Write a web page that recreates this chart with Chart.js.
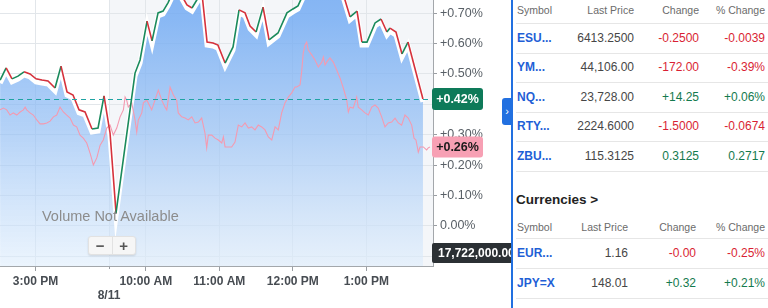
<!DOCTYPE html>
<html>
<head>
<meta charset="utf-8">
<script src="https://cdn.jsdelivr.net/npm/chart.js@4.4.1/dist/chart.umd.min.js"></script>
<style>
    html, body { margin: 0; padding: 0; }
    body {
        width: 768px; height: 308px; overflow: hidden; position: relative;
        background: #fff; font-family: "Liberation Sans", Arial, sans-serif;
    }
    #chartBox { position: absolute; left: 0; top: 0; width: 511px; height: 308px; overflow: hidden; }
    #priceChart { position: absolute; left: 0; top: -40px; }
    .no-volume { position: absolute; left: 42px; top: 208px; font-size: 14.5px; color: #8c8c8c; z-index: 2; }
    .zoom-btns {
        position: absolute; left: 88px; top: 236px; width: 46px; height: 17px; z-index: 2;
        background: #f6f6f6; border: 1px solid #e2e2e2; border-radius: 3px;
        box-shadow: 0 1px 2px rgba(0,0,0,0.12); display: flex;
    }
    .zoom-btns span {
        flex: 1; text-align: center; font-size: 15px; line-height: 17px; font-weight: bold; color: #555;
    }
    .zoom-btns span:first-child { border-right: 1px solid #e2e2e2; }
    #panel { position: absolute; left: 511px; top: 0; width: 257px; height: 308px; background: #fff; border-left: 2px solid #2270e0; }
    .tab {
        position: absolute; left: 502px; top: 98px; width: 10px; height: 27px; background: #2270e0;
        border-radius: 3px 0 0 3px; color: #fff; font-size: 11px; line-height: 27px; text-align: center; z-index: 3;
    }
    .cell { position: absolute; line-height: 16px; white-space: nowrap; z-index: 3; }
    .hdr { font-size: 10.5px; color: #6b6b6b; }
    .sym { font-size: 12px; font-weight: bold; color: #1f5fd6; }
    .num { font-size: 12px; color: #464646; text-align: right; }
    .up { color: #147a4e; }
    .down { color: #d91f34; }
    .sep { position: absolute; left: 516px; width: 252px; height: 1px; background: #e6e6e6; z-index: 3; }
    .title { font-size: 13.5px; font-weight: bold; color: #222; }
</style>
</head>
<body>
<div id="chartBox">
    <canvas id="priceChart" width="511" height="348"></canvas>
</div>
<div class="no-volume">Volume Not Available</div>
<div class="zoom-btns"><span>&minus;</span><span>+</span></div>
<div id="panel"></div>
<div class="tab">&rsaquo;</div>

<script>
// Main price line (minutes from the 9:30 open on 8/11, % change)
const mainTimes = [-88.9, -84.0, -79.2, -74.3, -69.4, -64.5, -59.6, -54.7, -49.8, -44.1,
    -39.2, -34.3, -29.4, -24.5, -19.6, -13.9, -9.0, -4.1, 0.8, 5.7,
    21.2, 25.3, 31.0, 35.1, 40.0, 44.1, 48.1, 53.0, 57.9, 63.6,
    67.7, 72.6, 75.9, 80.0, 84.9, 88.9, 94.7, 101.2, 106.1, 111.0,
    115.1, 120.0, 125.7, 130.6, 137.9, 145.2, 150.1, 154.2, 158.3, 164.0,
    169.7, 175.4, 181.2, 186.9, 191.8, 196.7, 202.4, 206.4, 210.5, 217.1,
    222.0, 226.8, 229.3, 234.2, 239.1, 244.0, 256.2];
const mainValues = [0.480, 0.520, 0.484, 0.493, 0.507, 0.500, 0.484, 0.480, 0.477, 0.454,
    0.526, 0.441, 0.431, 0.382, 0.375, 0.319, 0.322, 0.428, 0.306, 0.043,
    0.503, 0.546, 0.674, 0.609, 0.701, 0.707, 0.734, 0.776, 0.768, 0.727,
    0.717, 0.750, 0.763, 0.605, 0.602, 0.595, 0.536, 0.589, 0.711, 0.701,
    0.658, 0.638, 0.720, 0.612, 0.635, 0.701, 0.714, 0.724, 0.760, 0.790,
    0.830, 0.810, 0.840, 0.800, 0.753, 0.688, 0.707, 0.605, 0.605, 0.668,
    0.681, 0.638, 0.651, 0.638, 0.566, 0.605, 0.418];

// Comparison line (pink)
const compTimes = [-88.9, -86.2, -83.5, -80.8, -78.1, -75.3, -72.6, -69.9, -68.5, -67.2,
    -64.5, -61.8, -59.0, -56.3, -53.6, -50.8, -48.1, -45.4, -42.7, -40.0,
    -37.3, -34.5, -31.8, -29.1, -26.4, -23.7, -21.0, -18.2, -15.5, -12.8,
    -10.0, -7.3, -4.7, -1.9, 0.8, 3.5, 6.3, 9.0, 11.7, 13.1,
    14.4, 15.7, 18.5, 21.2, 22.6, 23.9, 26.7, 28.0, 30.8,
    34.8, 37.5, 40.2, 43.0, 45.7, 47.1, 49.8, 52.5, 55.2, 56.5,
    59.3, 62.0, 64.7, 67.5, 70.2, 72.9, 75.6, 78.3, 79.7, 81.0,
    83.8, 86.5, 89.2, 92.0, 93.3, 94.7, 97.3, 100.1, 102.8, 105.5,
    108.3, 111.0, 113.7, 116.4, 119.1, 121.8, 124.6, 127.3, 130.0, 132.8,
    135.5, 138.1, 140.9, 143.6, 146.3, 149.1, 151.8,
    153.2, 155.9, 157.2, 158.5, 159.9, 161.3, 162.6, 165.4, 168.1, 170.8,
    173.6, 174.9, 176.3, 177.6, 180.3, 183.0, 185.8, 188.5, 191.2, 194.0,
    195.3, 196.7, 199.3, 202.1, 203.4, 206.2, 208.9, 211.6, 214.4, 217.1,
    219.7, 222.5, 225.2, 227.9, 230.7, 233.4, 236.1, 238.8, 241.5, 244.2,
    247.0, 248.9, 250.5, 252.4, 253.8, 256.5, 259.2, 260.5, 261.9];
const compValues = [0.382, 0.388, 0.382, 0.365, 0.372, 0.365, 0.375, 0.382, 0.391, 0.382,
    0.372, 0.365, 0.349, 0.336, 0.336, 0.339, 0.345, 0.359, 0.365, 0.391,
    0.375, 0.365, 0.355, 0.332, 0.326, 0.299, 0.289, 0.273, 0.240, 0.201,
    0.224, 0.266, 0.283, 0.322, 0.332, 0.299, 0.322, 0.359, 0.382, 0.424,
    0.414, 0.391, 0.405, 0.349, 0.309, 0.349, 0.372, 0.405, 0.414,
    0.382, 0.414, 0.447, 0.414, 0.391, 0.382, 0.457, 0.431, 0.414, 0.372,
    0.359, 0.355, 0.349, 0.359, 0.339, 0.342, 0.355, 0.306, 0.257, 0.299,
    0.299, 0.289, 0.283, 0.273, 0.293, 0.260, 0.260, 0.260, 0.276, 0.332,
    0.326, 0.339, 0.322, 0.326, 0.316, 0.332, 0.326, 0.316, 0.293, 0.283,
    0.326, 0.316, 0.372, 0.405, 0.424, 0.438, 0.457,
    0.457, 0.464, 0.507, 0.569, 0.595, 0.605, 0.579, 0.563, 0.546, 0.523,
    0.539, 0.556, 0.530, 0.539, 0.553, 0.539, 0.513, 0.487, 0.454, 0.414,
    0.375, 0.391, 0.388, 0.424, 0.391, 0.382, 0.372, 0.365, 0.391, 0.398,
    0.388, 0.359, 0.326, 0.339, 0.342, 0.355, 0.339, 0.332, 0.365, 0.355,
    0.332, 0.289, 0.283, 0.243, 0.260, 0.260, 0.250, 0.257, 0.260];

// Axis ticks
const xTickValues = [-60, 0, 30, 90, 150, 210];
const xTickLabels = ['3:00 PM', ['', '8/11'], '10:00 AM', '11:00 AM', '12:00 PM', '1:00 PM'];
const yTickValues = [-0.1, 0, 0.1, 0.2, 0.3, 0.4, 0.5, 0.6, 0.7, 0.8];
const volumeLabel = '17,722,000.00';

// Side table
const tableHeaders = ['Symbol', 'Last Price', 'Change', '% Change'];
const futSymbols = ['ESU...', 'YM...', 'NQ...', 'RTY...', 'ZBU...'];
const futLast = ['6413.2500', '44,106.00', '23,728.00', '2224.6000', '115.3125'];
const futChange = ['-0.2500', '-172.00', '+14.25', '-1.5000', '0.3125'];
const futPct = ['-0.0039', '-0.39%', '+0.06%', '-0.0674', '0.2717'];
const curSymbols = ['EUR...', 'JPY=X'];
const curLast = ['1.16', '148.01'];
const curChange = ['-0.00', '+0.32'];
const curPct = ['-0.25%', '+0.21%'];

const GREEN = '#1a8a5c';
const RED = '#d6323c';

function fmtPct(v) {
    if (Math.abs(v) < 1e-9) return '0.00%';
    return (v > 0 ? '+' : '') + v.toFixed(2) + '%';
}

// Build the side panel
function addCell(text, cls, top, left, right) {
    const el = document.createElement('div');
    el.className = 'cell ' + cls;
    el.textContent = text;
    el.style.top = (top - 8) + 'px';
    if (left !== null) el.style.left = left + 'px';
    if (right !== null) el.style.right = right + 'px';
    document.body.appendChild(el);
}
function addSep(top) {
    const el = document.createElement('div');
    el.className = 'sep';
    el.style.top = top + 'px';
    document.body.appendChild(el);
}
function signClass(s) { return s.charAt(0) === '-' ? 'down' : 'up'; }

function buildTable(headerY, firstRowY, rowGap, cols, syms, last, chg, pct) {
    addCell(tableHeaders[0], 'hdr', headerY, 517, null);
    addCell(tableHeaders[1], 'hdr', headerY, null, cols[0]);
    addCell(tableHeaders[2], 'hdr', headerY, null, cols[1]);
    addCell(tableHeaders[3], 'hdr', headerY, null, cols[2]);
    addSep(firstRowY - 15);
    syms.forEach((s, i) => {
        const y = firstRowY + i * rowGap;
        addCell(s, 'sym', y, 517, null);
        addCell(last[i], 'num', y, null, cols[0]);
        addCell(chg[i], 'num ' + signClass(chg[i]), y, null, cols[1]);
        addCell(pct[i], 'num ' + signClass(pct[i]), y, null, cols[2]);
        addSep(y + 15);
    });
}
buildTable(10, 37.5, 29.5, [134, 69, 3], futSymbols, futLast, futChange, futPct);
addCell('Currencies >', 'title', 200, 516, null);
buildTable(227, 253, 30, [140, 72, 3], curSymbols, curLast, curChange, curPct);

// Plugins
const sessionBackground = {
    id: 'sessionBackground',
    beforeDraw(chart) {
        const a = chart.chartArea, ctx = chart.ctx;
        const x0 = chart.scales.x.getPixelForValue(0);
        ctx.save();
        ctx.fillStyle = '#f4f6f9';
        ctx.fillRect(x0, a.top, a.right - x0, a.bottom - a.top);
        ctx.restore();
    }
};

const haloShift = {
    id: 'haloShift',
    beforeDatasetDraw(chart, args) {
        if (args.index !== 2) return;
        const a = chart.chartArea, ctx = chart.ctx;
        ctx.save();
        ctx.beginPath();
        ctx.rect(a.left, a.top, a.right - a.left, a.bottom - a.top);
        ctx.clip();
        ctx.translate(0, 3);
    },
    afterDatasetDraw(chart, args) {
        if (args.index === 2) chart.ctx.restore();
    }
};

const lastLine = {
    id: 'lastLine',
    afterDatasetsDraw(chart) {
        const a = chart.chartArea, ctx = chart.ctx;
        const y = chart.scales.y.getPixelForValue(mainValues[mainValues.length - 1]);
        ctx.save();
        ctx.strokeStyle = '#1fa3a3';
        ctx.lineWidth = 1.2;
        ctx.setLineDash([5, 4]);
        ctx.beginPath();
        ctx.moveTo(a.left, Math.round(y) + 0.5);
        ctx.lineTo(a.right, Math.round(y) + 0.5);
        ctx.stroke();
        ctx.restore();
    }
};

function drawTag(ctx, x, y, w, h, bg, fg, text) {
    ctx.fillStyle = bg;
    ctx.beginPath();
    ctx.roundRect(x, y - h / 2, w, h, 3);
    ctx.fill();
    ctx.fillStyle = fg;
    ctx.textBaseline = 'middle';
    ctx.textAlign = 'center';
    ctx.fillText(text, x + w / 2, y + 1);
}

const valueTags = {
    id: 'valueTags',
    afterDraw(chart) {
        const ctx = chart.ctx, a = chart.chartArea, ys = chart.scales.y;
        ctx.save();
        ctx.font = 'bold 12.5px "Liberation Sans", Arial, sans-serif';
        const mainLast = mainValues[mainValues.length - 1];
        const compLast = compValues[compValues.length - 1];
        drawTag(ctx, a.right - 1, ys.getPixelForValue(mainLast), 51, 22, '#0e7a59', '#fff', fmtPct(mainLast));
        drawTag(ctx, a.right - 1, ys.getPixelForValue(compLast), 51, 21, '#f7a0b4', '#1b1b1b', fmtPct(compLast));
        // volume tag
        ctx.fillStyle = '#2b3034';
        ctx.beginPath();
        ctx.roundRect(a.right - 1, a.bottom - 23, 90, 20, 2);
        ctx.fill();
        ctx.fillStyle = '#fff';
        ctx.textAlign = 'left';
        ctx.textBaseline = 'middle';
        ctx.font = 'bold 12px "Liberation Sans", Arial, sans-serif';
        ctx.fillText(volumeLabel, a.right + 5, a.bottom - 12);
        ctx.restore();
    }
};

// Chart
Chart.defaults.font.family = '"Liberation Sans", Arial, sans-serif';
const cv = document.getElementById('priceChart');
const mainPoints = mainTimes.map((t, i) => ({x: t, y: mainValues[i]}));
const compPoints = compTimes.map((t, i) => ({x: t, y: compValues[i]}));

new Chart(cv.getContext('2d'), {
    type: 'line',
    data: {
        datasets: [{
            data: mainPoints,
            order: 0,
            borderWidth: 1.6,
            borderColor: GREEN,
            segment: {
                borderColor: c => c.p1.parsed.y >= c.p0.parsed.y ? GREEN : RED
            },
            pointRadius: 0,
            fill: false,
            tension: 0
        }, {
            data: compPoints,
            order: 1,
            borderWidth: 1.1,
            borderColor: '#f49ab0',
            pointRadius: 0,
            fill: false,
            tension: 0
        }, {
            data: mainPoints,
            order: 2,
            borderWidth: 5,
            borderColor: '#ffffff',
            pointRadius: 0,
            tension: 0,
            fill: 'start',
            backgroundColor: function(context) {
                const a = context.chart.chartArea;
                if (!a) return 'rgba(140,186,245,0.7)';
                const g = context.chart.ctx.createLinearGradient(0, a.top, 0, a.bottom);
                g.addColorStop(0, 'rgba(100,160,242,0.82)');
                g.addColorStop(0.2, 'rgba(111,169,243,0.8)');
                g.addColorStop(0.55, 'rgba(148,191,244,0.7)');
                g.addColorStop(1, 'rgba(222,237,252,0.6)');
                return g;
            }
        }]
    },
    options: {
        responsive: false,
        animation: false,
        devicePixelRatio: 1,
        layout: { padding: 0 },
        plugins: {
            legend: { display: false },
            tooltip: { enabled: false }
        },
        scales: {
            x: {
                type: 'linear',
                min: -89,
                max: 264.4,
                afterBuildTicks: s => { s.ticks = xTickValues.map(v => ({value: v})); },
                afterFit: s => { s.height = 42; s.paddingLeft = 0; s.paddingRight = 0; },
                ticks: {
                    autoSkip: false,
                    maxRotation: 0,
                    padding: 3,
                    color: '#474c52',
                    font: { size: 12, weight: 'bold' },
                    callback: (v, i) => xTickLabels[i]
                },
                grid: {
                    color: '#e2e6ea',
                    tickColor: '#9a9ea3',
                    tickLength: 5,
                    tickBorderDash: c => (c.tick && c.tick.value === 0) ? [2, 2] : []
                },
                border: { color: '#a3a7ab' }
            },
            y: {
                position: 'right',
                min: -0.1316,
                max: 0.875,
                afterBuildTicks: s => { s.ticks = yTickValues.map(v => ({value: v})); },
                afterFit: s => { s.width = 78; s.paddingTop = 0; s.paddingBottom = 0; },
                ticks: {
                    padding: 3,
                    color: '#585f66',
                    font: { size: 12.5 },
                    callback: v => fmtPct(v)
                },
                grid: {
                    color: '#e2e6ea',
                    tickColor: '#9a9ea3',
                    tickLength: 4
                },
                border: { color: '#a3a7ab' }
            }
        }
    },
    plugins: [sessionBackground, haloShift, lastLine, valueTags]
});
</script>
</body>
</html>
